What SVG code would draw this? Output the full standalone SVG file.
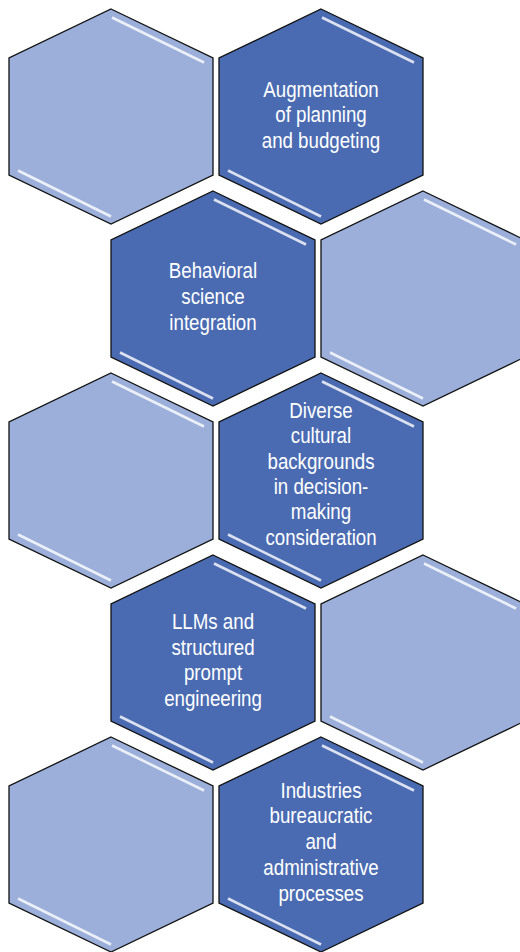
<svg xmlns="http://www.w3.org/2000/svg" width="520" height="952" viewBox="0 0 520 952">
<defs>
<style>
.hex{stroke:#111;stroke-width:1.3;stroke-linejoin:miter}
.dark{fill:#4A6BB2}
.light{fill:#9BAFDA}
.hl{stroke:#fff;stroke-opacity:0.8;stroke-width:2.6;fill:none;stroke-linecap:butt}
.t{fill:#fff;font-family:"Liberation Sans",Arial,sans-serif;font-size:21.5px;text-anchor:middle}
</style>
<path id="hx" d="M0,-107.5 L102,-58.5 L102,58.5 L0,107.5 L-102,58.5 L-102,-58.5 Z"/>
<path id="hh" d="M1,-99 L93,-54 M-93,54 L0,100"/>
</defs>
<rect width="520" height="952" fill="#fff"/>
<g id="connectors"></g>
<g id="hex1" transform="translate(111,116.5)"><use href="#hx" class="hex light"/><use href="#hh" class="hl"/></g>
<g id="hex2" transform="translate(321,116.5)"><use href="#hx" class="hex dark"/><use href="#hh" class="hl"/>
<text class="t" transform="scale(0.87,1)"><tspan x="0" y="-19.8">Augmentation</tspan><tspan x="0" y="5.8">of planning</tspan><tspan x="0" y="31.8">and budgeting</tspan></text></g>
<g id="hex3" transform="translate(213,298.5)"><use href="#hx" class="hex dark"/><use href="#hh" class="hl"/>
<text class="t" transform="scale(0.87,1)"><tspan x="0" y="-20.2">Behavioral</tspan><tspan x="0" y="5.5">science</tspan><tspan x="0" y="31.5">integration</tspan></text></g>
<g id="hex4" transform="translate(423,298.5)"><use href="#hx" class="hex light"/><use href="#hh" class="hl"/></g>
<g id="hex5" transform="translate(111,480.5)"><use href="#hx" class="hex light"/><use href="#hh" class="hl"/></g>
<g id="hex6" transform="translate(321,480.5)"><use href="#hx" class="hex dark"/><use href="#hh" class="hl"/>
<text class="t" transform="scale(0.87,1)"><tspan x="0" y="-62.8">Diverse</tspan><tspan x="0" y="-37.2">cultural</tspan><tspan x="0" y="-11.8">backgrounds</tspan><tspan x="0" y="13.5">in decision-</tspan><tspan x="0" y="38.8">making</tspan><tspan x="0" y="64.2">consideration</tspan></text></g>
<g id="hex7" transform="translate(213,662.5)"><use href="#hx" class="hex dark"/><use href="#hh" class="hl"/>
<text class="t" transform="scale(0.87,1)"><tspan x="0" y="-33.5">LLMs and</tspan><tspan x="0" y="-7.5">structured</tspan><tspan x="0" y="17.5">prompt</tspan><tspan x="0" y="43.5">engineering</tspan></text></g>
<g id="hex8" transform="translate(423,662.5)"><use href="#hx" class="hex light"/><use href="#hh" class="hl"/></g>
<g id="hex9" transform="translate(111,844.5)"><use href="#hx" class="hex light"/><use href="#hh" class="hl"/></g>
<g id="hex10" transform="translate(321,844.5)"><use href="#hx" class="hex dark"/><use href="#hh" class="hl"/>
<text class="t" transform="scale(0.87,1)"><tspan x="0" y="-46.2">Industries</tspan><tspan x="0" y="-21.2">bureaucratic</tspan><tspan x="0" y="4.5">and</tspan><tspan x="0" y="30.5">administrative</tspan><tspan x="0" y="56.2">processes</tspan></text></g>
</svg>
